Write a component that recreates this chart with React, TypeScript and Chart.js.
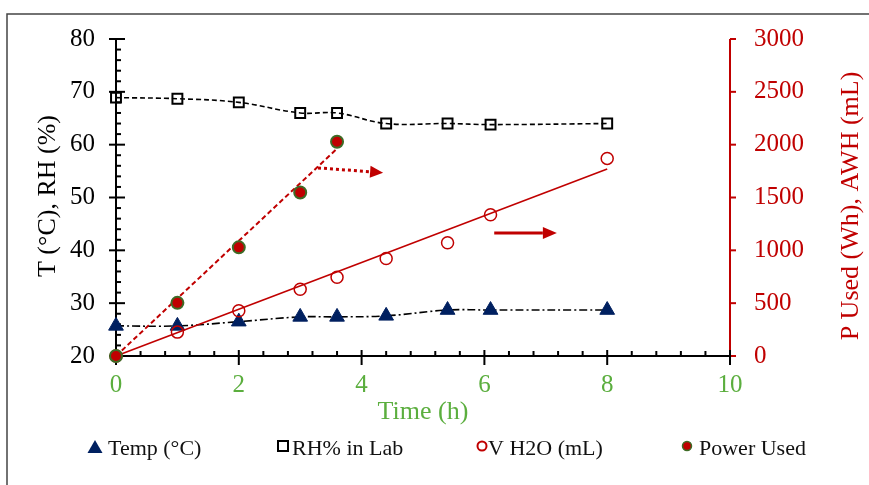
import React, { useEffect, useRef } from "react";
import { Chart, registerables } from "chart.js";

Chart.register(...registerables);

// ---------- data ----------
const timeH = [0, 1, 2, 3, 3.6, 4.4, 5.4, 6.1, 8];
const tempC = [25.7, 25.7, 26.5, 27.4, 27.4, 27.6, 28.7, 28.7, 28.7];
const rhLab = [68.9, 68.7, 68.0, 66.0, 66.0, 64.0, 64.0, 63.8, 64.0];
const vH2O = [0, 226, 429, 631, 745, 922, 1071, 1337, 1870];
const powerTime = [0, 1, 2, 3, 3.6];
const powerWh = [0, 503, 1028, 1547, 2028];
const vTrendX = [0, 8];
const vTrendY = [0, 1770];
const pTrendX = [0, 3.6];
const pTrendY = [0, 1962];
// annotation arrows in data units (x: h, y: left axis)
const arrowDotted = [3.29, 55.6, 4.35, 54.7];
const arrowSolid = [6.16, 43.3, 7.18, 43.3];

const legendLabels = ["Temp (°C)", "RH% in Lab", "V H2O (mL)", "Power Used"];
const xTitle = "Time (h)";
const yTitle = "T (°C), RH (%)";
const y2Title = "P Used (Wh), AWH (mL)";

const SERIF = "'Liberation Serif', 'Times New Roman', serif";
const RED = "#C00000";
const GREEN = "#5BAE3E";
const NAVY = "#002060";
const DKGREEN = "#3E6B26";

const pts = (xs: number[], ys: number[]) => xs.map((x, i) => ({ x, y: ys[i] }));

function drawArrow(ctx: CanvasRenderingContext2D, x1: number, y1: number, x2: number, y2: number, dash: number[], head: number, halfW: number) {
  const ang = Math.atan2(y2 - y1, x2 - x1);
  const bx = x2 - head * Math.cos(ang);
  const by = y2 - head * Math.sin(ang);
  ctx.save();
  ctx.strokeStyle = RED;
  ctx.fillStyle = RED;
  ctx.lineWidth = 3;
  ctx.setLineDash(dash);
  ctx.beginPath();
  ctx.moveTo(x1, y1);
  ctx.lineTo(bx, by);
  ctx.stroke();
  ctx.setLineDash([]);
  ctx.beginPath();
  ctx.moveTo(x2, y2);
  ctx.lineTo(bx + halfW * Math.sin(ang), by - halfW * Math.cos(ang));
  ctx.lineTo(bx - halfW * Math.sin(ang), by + halfW * Math.cos(ang));
  ctx.closePath();
  ctx.fill();
  ctx.restore();
}

const decorPlugin = {
  id: "decor",
  beforeDatasetsDraw(chart: any) {
    const { ctx, chartArea } = chart;
    const { left, right, top, bottom } = chartArea;
    const { x, y, y2 } = chart.scales;
    ctx.save();
    // frame
    ctx.strokeStyle = "#444";
    ctx.lineWidth = 1.5;
    ctx.beginPath();
    ctx.moveTo(7, 490);
    ctx.lineTo(7, 14);
    ctx.lineTo(875, 14);
    ctx.stroke();

    ctx.lineCap = "butt";
    // left axis
    ctx.strokeStyle = "#000";
    ctx.lineWidth = 2;
    ctx.beginPath();
    ctx.moveTo(left, top);
    ctx.lineTo(left, bottom);
    ctx.stroke();
    for (let v = y.min; v <= y.max + 1e-9; v += 2) {
      const py = y.getPixelForValue(v);
      const major = Math.abs(v % 10) < 1e-9;
      ctx.beginPath();
      ctx.moveTo(major ? left - 7 : left, py);
      ctx.lineTo(major ? left + 9 : left + 5, py);
      ctx.stroke();
    }
    // right axis
    ctx.strokeStyle = RED;
    ctx.beginPath();
    ctx.moveTo(right, top);
    ctx.lineTo(right, bottom);
    ctx.stroke();
    for (let v = y2.min; v <= y2.max + 1e-9; v += 500) {
      const py = y2.getPixelForValue(v);
      ctx.beginPath();
      ctx.moveTo(right, py);
      ctx.lineTo(right + 6, py);
      ctx.stroke();
    }
    // x axis
    ctx.strokeStyle = "#000";
    ctx.beginPath();
    ctx.moveTo(left, bottom);
    ctx.lineTo(right, bottom);
    ctx.stroke();
    for (let i = 0; i <= 25; i++) {
      const v = i * 0.4;
      const px = x.getPixelForValue(v);
      const major = i % 5 === 0;
      ctx.beginPath();
      ctx.moveTo(px, major ? bottom - 6 : bottom - 5);
      ctx.lineTo(px, major ? bottom + 9 : bottom);
      ctx.stroke();
    }
    ctx.restore();
  },
  afterDraw(chart: any) {
    const { ctx } = chart;
    const { x, y } = chart.scales;
    ctx.save();
    // titles
    ctx.textAlign = "center";
    ctx.textBaseline = "middle";
    ctx.font = `26px ${SERIF}`;
    ctx.fillStyle = GREEN;
    ctx.fillText(xTitle, 423, 412);
    ctx.save();
    ctx.translate(48, 196);
    ctx.rotate(-Math.PI / 2);
    ctx.fillStyle = "#000";
    ctx.fillText(yTitle, 0, 0);
    ctx.restore();
    ctx.save();
    ctx.translate(851, 206);
    ctx.rotate(-Math.PI / 2);
    ctx.fillStyle = RED;
    ctx.fillText(y2Title, 0, 0);
    ctx.restore();

    // arrows
    const px = (v: number) => x.getPixelForValue(v);
    const py = (v: number) => y.getPixelForValue(v);
    drawArrow(ctx, px(arrowDotted[0]), py(arrowDotted[1]), px(arrowDotted[2]), py(arrowDotted[3]), [3, 3], 13, 6);
    drawArrow(ctx, px(arrowSolid[0]), py(arrowSolid[1]), px(arrowSolid[2]), py(arrowSolid[3]), [], 14, 6);

    // legend
    const ly = 446;
    ctx.font = `22px ${SERIF}`;
    ctx.textAlign = "left";
    ctx.textBaseline = "alphabetic";
    // triangle
    ctx.fillStyle = NAVY;
    ctx.beginPath();
    ctx.moveTo(95, ly - 6);
    ctx.lineTo(102.5, ly + 7);
    ctx.lineTo(87.5, ly + 7);
    ctx.closePath();
    ctx.fill();
    // square
    ctx.strokeStyle = "#000";
    ctx.lineWidth = 2;
    ctx.strokeRect(278, ly - 5, 10, 10);
    // open circle
    ctx.strokeStyle = RED;
    ctx.beginPath();
    ctx.arc(482, ly, 4.5, 0, Math.PI * 2);
    ctx.stroke();
    // filled dot
    ctx.fillStyle = RED;
    ctx.strokeStyle = DKGREEN;
    ctx.lineWidth = 1.5;
    ctx.beginPath();
    ctx.arc(687, ly, 4.5, 0, Math.PI * 2);
    ctx.fill();
    ctx.stroke();
    ctx.fillStyle = "#111";
    ctx.fillText(legendLabels[0], 108, 455);
    ctx.fillText(legendLabels[1], 292, 455);
    ctx.fillText(legendLabels[2], 488, 455);
    ctx.fillText(legendLabels[3], 699, 455);
    ctx.restore();
  },
};

export default function App() {
  const ref = useRef<HTMLCanvasElement | null>(null);
  useEffect(() => {
    if (!ref.current) return;
    const tickFont = { family: SERIF, size: 25 };
    const plain = (v: any) => String(v);
    const chart = new Chart(ref.current, {
      type: "scatter",
      data: {
        datasets: [
          {
            label: legendLabels[3],
            data: pts(powerTime, powerWh),
            yAxisID: "y2",
            showLine: false,
            pointStyle: "circle",
            pointRadius: 6,
            pointBackgroundColor: RED,
            pointBorderColor: DKGREEN,
            pointBorderWidth: 2,
            clip: false,
            order: 1,
          } as any,
          {
            label: legendLabels[2],
            data: pts(timeH, vH2O),
            yAxisID: "y2",
            showLine: false,
            pointStyle: "circle",
            pointRadius: 6,
            pointBackgroundColor: "rgba(0,0,0,0)",
            pointBorderColor: RED,
            pointBorderWidth: 1.5,
            clip: false,
            order: 2,
          } as any,
          {
            label: "Power trend",
            data: pts(pTrendX, pTrendY),
            yAxisID: "y2",
            showLine: true,
            borderColor: RED,
            borderWidth: 2,
            borderDash: [5, 3],
            pointRadius: 0,
            clip: false,
            order: 3,
          } as any,
          {
            label: "V H2O trend",
            data: pts(vTrendX, vTrendY),
            yAxisID: "y2",
            showLine: true,
            borderColor: RED,
            borderWidth: 1.6,
            pointRadius: 0,
            clip: false,
            order: 4,
          } as any,
          {
            label: legendLabels[1],
            data: pts(timeH, rhLab),
            yAxisID: "y",
            showLine: true,
            tension: 0.4,
            borderColor: "#000",
            borderWidth: 1.6,
            borderDash: [5, 3],
            pointStyle: "rect",
            pointRadius: 7,
            pointBackgroundColor: "rgba(0,0,0,0)",
            pointBorderColor: "#000",
            pointBorderWidth: 2,
            clip: false,
            order: 5,
          } as any,
          {
            label: legendLabels[0],
            data: pts(timeH, tempC),
            yAxisID: "y",
            showLine: true,
            tension: 0.4,
            borderColor: "#000",
            borderWidth: 1.6,
            borderDash: [8, 3, 2, 3],
            pointStyle: "triangle",
            pointRadius: 8.5,
            pointBackgroundColor: NAVY,
            pointBorderColor: NAVY,
            pointBorderWidth: 1,
            clip: false,
            order: 6,
          } as any,
        ],
      },
      options: {
        animation: false,
        responsive: false,
        maintainAspectRatio: false,
        layout: { padding: { top: 34, left: 0, right: 0, bottom: 0 } },
        plugins: { legend: { display: false }, tooltip: { enabled: false } },
        scales: {
          x: {
            type: "linear",
            position: "bottom",
            min: 0,
            max: 10,
            ticks: { stepSize: 2, color: GREEN, font: tickFont, padding: 14, callback: plain },
            grid: { display: false, drawTicks: false },
            border: { display: false },
            afterFit: (s: any) => {
              s.height = 129;
            },
          },
          y: {
            type: "linear",
            position: "left",
            min: 20,
            max: 80,
            ticks: { stepSize: 10, color: "#000", font: tickFont, padding: 21, callback: plain },
            grid: { display: false, drawTicks: false },
            border: { display: false },
            afterFit: (s: any) => {
              s.width = 116;
            },
          },
          y2: {
            type: "linear",
            position: "right",
            min: 0,
            max: 3000,
            ticks: { stepSize: 500, color: RED, font: tickFont, padding: 24, callback: plain },
            grid: { display: false, drawTicks: false },
            border: { display: false },
            afterFit: (s: any) => {
              s.width = 139;
            },
          },
        },
      } as any,
      plugins: [decorPlugin],
    });
    return () => chart.destroy();
  }, []);
  return (
    <div style={{ position: "fixed", left: 0, top: 0, width: 869, height: 485, background: "#fff" }}>
      <canvas ref={ref} width={869} height={485} style={{ display: "block" }} />
    </div>
  );
}
